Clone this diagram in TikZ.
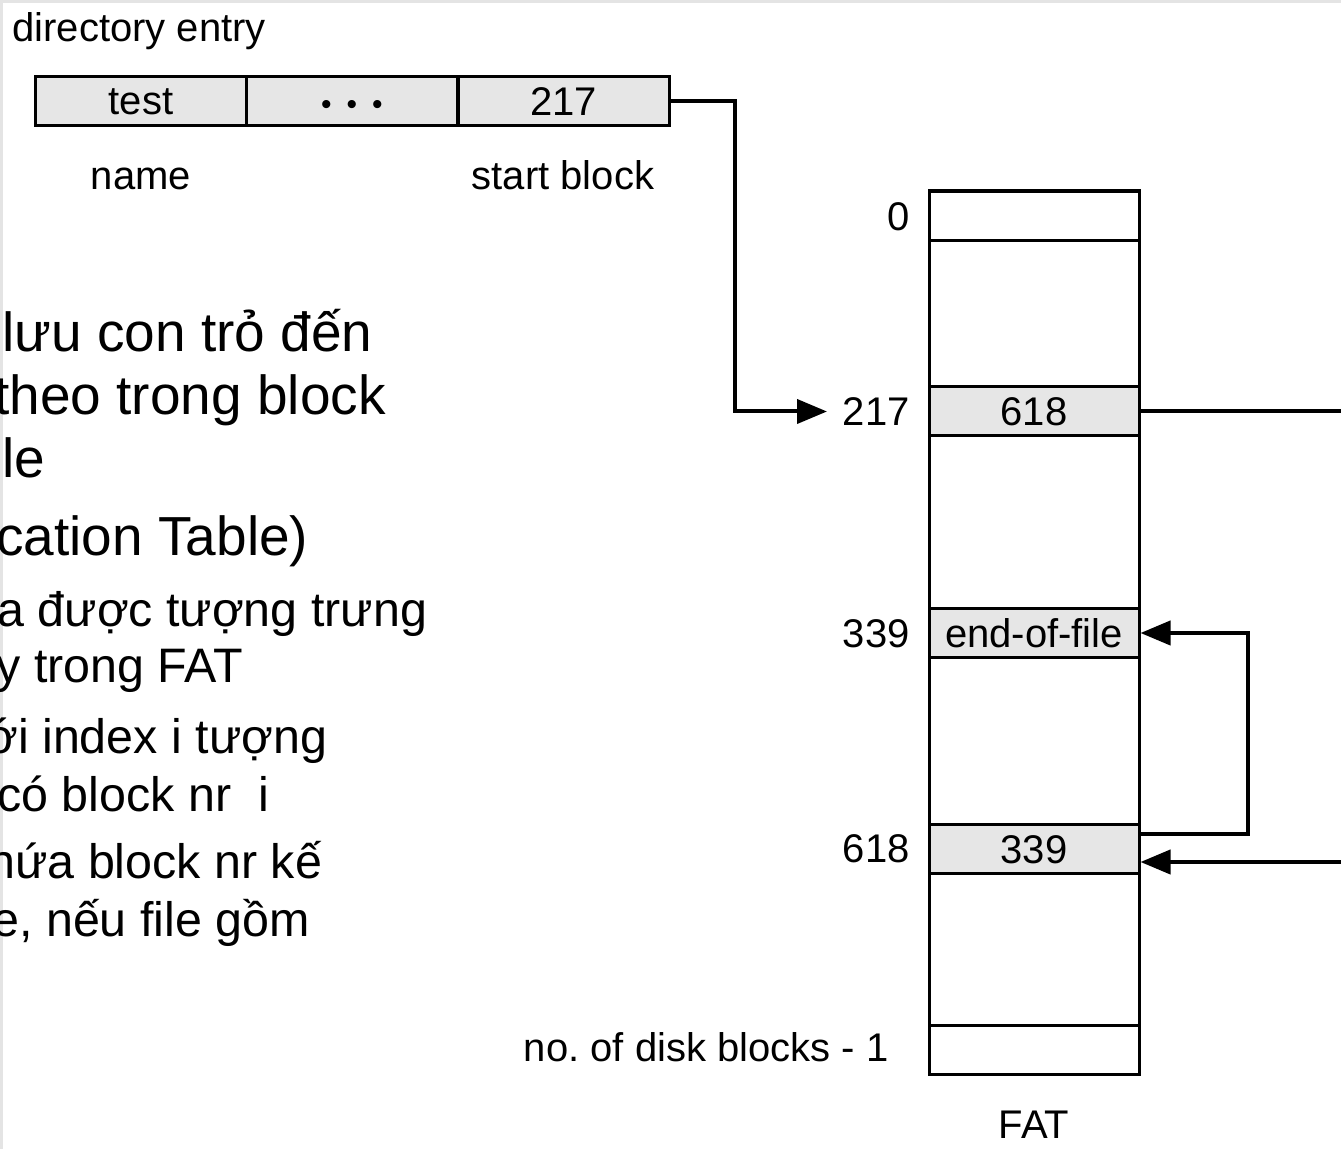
\documentclass[tikz,border=0pt]{standalone}
\usepackage{fontspec}
\setmainfont{Liberation Sans}
\usetikzlibrary{arrows.meta}
\definecolor{cellgray}{HTML}{E6E6E6}
\definecolor{edgegray}{HTML}{E4E4E4}
\frenchspacing
\begin{document}
\begin{tikzpicture}[x=0.5pt,y=-0.5pt,
  lab/.style={font=\fontsize{20}{24}\selectfont, inner sep=0pt},
  slide/.style={font=\fontsize{27.5}{32}\selectfont, inner sep=0pt, anchor=base west},
  slidesm/.style={font=\fontsize{24.2}{29}\selectfont, inner sep=0pt, anchor=base west},
  dcell/.style={draw, line width=1.5pt, fill=cellgray, minimum width=105.5pt, minimum height=24.5pt, inner sep=0pt, font=\fontsize{20}{24}\selectfont},
  fcell/.style={draw, line width=1.5pt, minimum width=105pt, minimum height=24.5pt, inner sep=0pt, font=\fontsize{20}{24}\selectfont},
  conn/.style={line width=2pt, -{Triangle[length=15pt,width=12pt]}},
  line/.style={line width=2pt}
]
\useasboundingbox (0,0) rectangle (1341,1149);
% edge strips
\fill[edgegray] (0,0) rectangle (1341,3);
\fill[edgegray] (0,0) rectangle (3,1149);

% slide text (cut off at the left)
\node[slide] (t1) at (2,352) {lưu con trỏ đến};
\node[slide] (t2) at (-6,415) {theo trong block};
\node[slide] (t3) at (2,478) {le};
\node[slide] (t4) at (-4,556) {cation Table)};
\node[slidesm] (t5) at (-3,627) {a được tượng trưng};
\node[slidesm] (t6) at (-4,683) {y trong FAT};
\node[slidesm] (t7) at (-14,754) {ới index i tượng};
\node[slidesm] (t8) at (-3,812) {có block nr\ \ i};
\node[slidesm] (t9) at (-12,879) {hứa block nr kế};
\node[slidesm] (t10) at (-8,937) {e, nếu file gồm};

% directory entry
\node[lab, anchor=base west] (dirlab) at (12,42) {directory entry};
\node[dcell] (d1) at (141,101.5) {test};
\node[dcell, font=\fontsize{15}{18}\selectfont] (d2) at (352,101.5) {\raisebox{-6.5pt}[0pt][0pt]{•\hspace{7.5pt}•\hspace{7.5pt}•}};
\node[dcell] (d3) at (563.5,101.5) {217};
\node[lab, anchor=base] (namelab) at (141,190) {name};
\node[lab, anchor=base] (startlab) at (563,190) {start block};

% FAT
\node[draw, line width=1.5pt, minimum width=105pt, minimum height=442pt, inner sep=0pt] (fat) at (1034,633) {};
\node[fcell] (f0) at (1034,216) {};
\node[fcell, fill=cellgray] (f217) at (1034,411.5) {618};
\node[fcell, fill=cellgray] (f339) at (1034,633) {end-of-file};
\node[fcell, fill=cellgray] (f618) at (1034,849.5) {339};
\node[fcell] (fN) at (1034,1050) {};
\node[lab, anchor=base east] (l0) at (910,231) {0};
\node[lab, anchor=base east] (l217) at (910,426) {217};
\node[lab, anchor=base east] (l339) at (910,648) {339};
\node[lab, anchor=base east] (l618) at (910,863) {618};
\node[lab, anchor=base east] (lN) at (889,1062) {no. of disk blocks - 1};
\node[lab, anchor=base] (fatlab) at (1034,1139) {FAT};

% connectors
\coordinate (a217) at (827,411.5);
\draw[conn] (d3.east) -- (735,101.5) |- (a217);
\draw[conn] (f217.east) -- (1350,411.5) |- ([yshift=-6.25pt]f618.east);
\draw[conn] ([yshift=7.75pt]f618.east) -- (1248,834) |- (f339.east);
\end{tikzpicture}
\end{document}
